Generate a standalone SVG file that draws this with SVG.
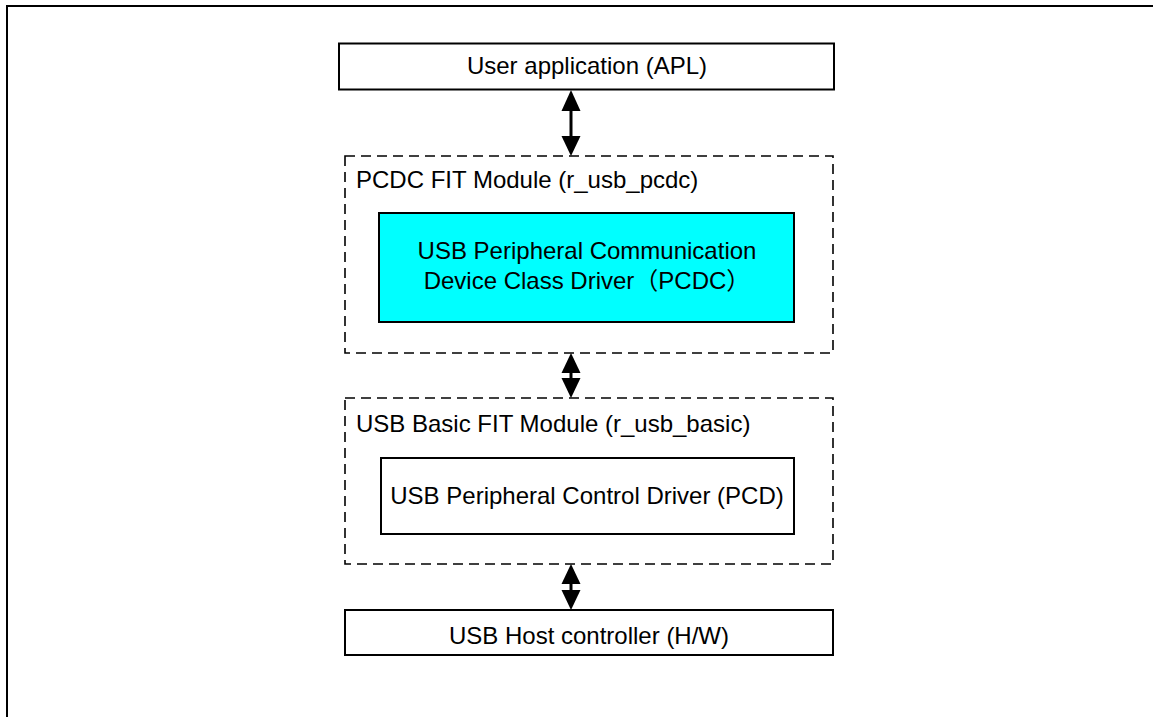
<svg xmlns="http://www.w3.org/2000/svg" width="1153" height="717" viewBox="0 0 1153 717">
<style>
.t{font-family:"Liberation Sans",Arial,"Noto Sans CJK JP",sans-serif;font-size:24px;fill:#000}
.c{text-anchor:middle}
.box{fill:#fff;stroke:#000;stroke-width:2}
.dash{fill:none;stroke:#000;stroke-width:1.6;stroke-dasharray:10 6}
.shaft{stroke:#000;stroke-width:3}
.head{fill:#000}
</style>
<rect width="1153" height="717" fill="#fff"/>
<g id="frame"><path d="M7 717 V6 H1153" fill="none" stroke="#000" stroke-width="2"/></g>
<g id="apl"><rect class="box" x="339" y="43.5" width="495" height="46"/><text class="t c" x="587" y="74">User application (APL)</text></g>
<g id="pcdc-module"><rect class="dash" x="345" y="156" width="488" height="197"/><text class="t" x="356" y="188">PCDC FIT Module (r_usb_pcdc)</text></g>
<g id="pcdc"><rect x="379" y="213" width="415" height="109" fill="#00ffff" stroke="#000" stroke-width="2"/><text class="t c" x="587" y="259">USB Peripheral Communication</text><text class="t c" x="587" y="289">Device Class Driver（PCDC）</text></g>
<g id="basic-module"><rect class="dash" x="345" y="398" width="488" height="166"/><text class="t" x="356" y="432">USB Basic FIT Module (r_usb_basic)</text></g>
<g id="pcd"><rect class="box" x="381" y="458" width="413" height="76"/><text class="t c" x="587" y="504">USB Peripheral Control Driver (PCD)</text></g>
<g id="host"><rect class="box" x="345" y="610" width="488" height="45"/><text class="t c" x="589" y="644">USB Host controller (H/W)</text></g>
<g id="connectors">
<line class="shaft" x1="571" y1="105" x2="571" y2="140"/>
<path class="head" d="M571 90 L561.5 111 L580.5 111 Z"/>
<path class="head" d="M571 156 L561.5 136 L580.5 136 Z"/>
<line class="shaft" x1="571" y1="365" x2="571" y2="386"/>
<path class="head" d="M571 353 L561.5 373 L580.5 373 Z"/>
<path class="head" d="M571 398 L561.5 378 L580.5 378 Z"/>
<line class="shaft" x1="571" y1="576" x2="571" y2="598"/>
<path class="head" d="M571 564 L561.5 584 L580.5 584 Z"/>
<path class="head" d="M571 610 L561.5 590 L580.5 590 Z"/>
</g>
</svg>
